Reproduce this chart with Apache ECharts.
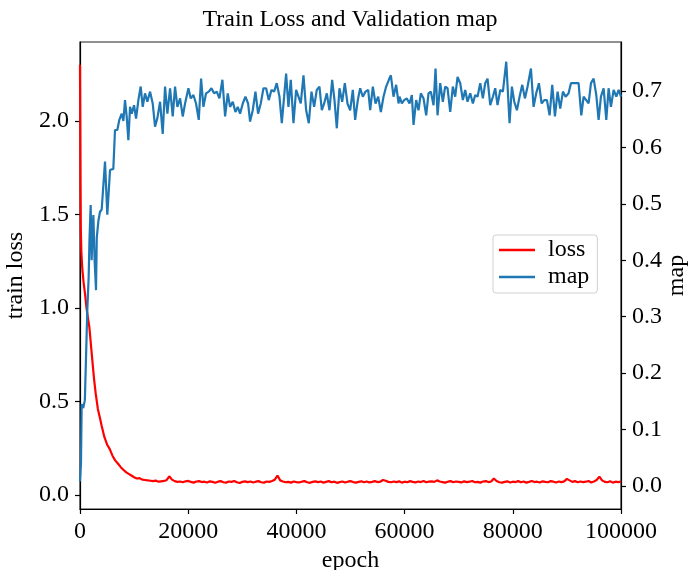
<!DOCTYPE html>
<html><head><meta charset="utf-8">
<script src="https://cdn.jsdelivr.net/npm/echarts@6/dist/echarts.min.js"></script>
<style>html,body{margin:0;padding:0;background:#fff}#c{width:689px;height:570px}</style>
</head><body><div id="c"></div>
<script>
// ---- data ----
const lossEarlyEpochs = [0,50,100,150,250,400,650,925,1200,1450,1720,2000,2280,2600,2900,3300,3700,4000,4500,5000,5500,6000,6500,7000,7500,8000,8500,9000,9500,10000,10500];
const lossEarlyValues = [2.30,2.00,1.65,1.42,1.30,1.22,1.14,1.077,1.00,0.95,0.90,0.81,0.72,0.62,0.543,0.46,0.41,0.37,0.31,0.27,0.245,0.21,0.185,0.168,0.15,0.135,0.122,0.113,0.104,0.095,0.088];
const lossFlatStart = 11000, lossFlatStep = 500;
const lossFlatValues = [
 .090,.082,.080,.078,.076,.074,.077,.071,.073,.075,
 .079,.100,.082,.074,.070,.072,.068,.073,.075,.070,
 .066,.072,.074,.069,.071,.067,.073,.070,.065,.071,
 .074,.068,.066,.072,.070,.075,.068,.064,.070,.073,
 .069,.072,.067,.071,.074,.068,.066,.072,.070,.075,
 .082,.104,.078,.072,.068,.070,.066,.072,.069,.067,
 .071,.074,.068,.065,.070,.073,.069,.072,.066,.070,
 .074,.068,.071,.065,.069,.072,.067,.071,.074,.069,
 .066,.070,.073,.068,.072,.067,.070,.074,.069,.071,
 .080,.076,.070,.068,.072,.069,.073,.066,.071,.068,
 .074,.070,.067,.072,.069,.075,.068,.071,.073,.070,
 .078,.072,.069,.066,.071,.074,.068,.072,.070,.067,
 .073,.069,.071,.075,.068,.070,.066,.072,.074,.069,
 .072,.088,.075,.068,.066,.070,.073,.067,.071,.069,
 .074,.068,.072,.066,.070,.075,.069,.071,.067,.073,
 .070,.068,.074,.071,.067,.072,.069,.073,.086,.078,
 .070,.074,.068,.072,.069,.071,.075,.067,.072,.080,
 .098,.078,.070,.068,.073,.066,.071,.069,.072];
const mapEpochs = [0,180,310,600,900,1100,1350,1600,1750,1970,2150,2280,2470,2700,2960,3100,3400,3700,4010,4300,4620,5050,5550,6160,6470,6900,7270,7710,8020,8320,8630,8940,9250,9560,9990,10360,10790,11220,11590,12020,12450,
 12950,13440,13870,14300,14800,15290,15720,16150,16650,17140,17570,18000,18500,18990,19420,20040,20470,20960,21450,21950,22380,22810,23300,23800,24290,24780,25280,25770,26320,26820,27310,27740,28240,28730,29160,29590,30090,30580,31070,31440,31930,32430,32920,33410,33910,34400,34890,35390,35880,36370,36870,37300,37730,38100,38530,38960,39460,39950,40380,40810,41310,41800,42290,42790,43280,43770,44260,44700,45130,45620,46110,46610,47040,47470,47960,48460,48950,49440,49940,50430,50860,51350,51790,52280,52770,53270,53640,54130,54620,55120,55610,56100,56590,57090,57460,57950,58440,58880,
 59060,59490,59920,60410,60910,61340,61650,62140,62570,63000,63500,63990,64420,64850,65350,65720,66090,66580,67070,67500,67940,68430,68920,69350,69790,70280,70770,71200,71630,72130,72620,73050,73480,73980,74470,74900,75330,75830,76320,76750,77180,77680,78170,78790,79400,79830,80270,80760,81250,81750,82240,82730,83350,83840,84330,84830,85320,85810,86310,86800,87290,87790,88280,88770,89270,89760,90310,90750,91240,91730,92160,92660,93090,93580,94010,94450,94940,95430,95860,96290,96790,97280,97710,98140,98640,99130,99560,100000];
const mapValues = [.008,.040,.145,.138,.152,.223,.312,.370,.436,.498,.400,.442,.480,.400,.347,.440,.470,.486,.490,.488,.575,.481,.560,.562,.631,.631,.649,.660,.647,.684,.655,.613,.672,.660,.675,.651,.684,.708,.672,.696,.681,
 .699,.678,.637,.652,.681,.624,.708,.660,.705,.655,.708,.672,.687,.655,.678,.705,.687,.693,.678,.649,.722,.672,.696,.699,.705,.696,.699,.687,.720,.655,.696,.672,.681,.663,.672,.660,.678,.690,.678,.646,.666,.699,.660,.678,.705,.705,.684,.702,.699,.714,.690,.643,.690,.731,.672,.720,.643,.702,.690,.678,.728,.666,.643,.699,.672,.702,.708,.666,.678,.696,.666,.720,.684,.634,.705,.681,.714,.678,.666,.702,.649,.684,.705,.690,.699,.702,.666,.708,.678,.690,.663,.690,.708,.720,.728,.690,.711,.678,
 .690,.678,.684,.687,.678,.693,.640,.684,.666,.696,.687,.657,.696,.699,.675,.740,.657,.714,.681,.708,.705,.663,.708,.690,.725,.714,.684,.702,.681,.696,.678,.693,.690,.714,.687,.714,.722,.675,.690,.705,.675,.702,.699,.752,.643,.708,.681,.666,.690,.711,.687,.708,.740,.672,.696,.714,.678,.684,.684,.657,.711,.655,.699,.669,.699,.690,.696,.714,.714,.714,.714,.657,.690,.684,.678,.714,.722,.693,.649,.690,.705,.649,.705,.672,.702,.690,.702,.690];
const xTicks = [0,20000,40000,60000,80000,100000];
const lossTicks = [0,0.5,1.0,1.5,2.0];
const mapTicks = [0,0.1,0.2,0.3,0.4,0.5,0.6,0.7];

// ---- build series pairs ----
const lossData = lossEarlyEpochs.map((e,i)=>[e,lossEarlyValues[i]])
  .concat(lossFlatValues.map((v,i)=>[lossFlatStart+i*lossFlatStep,v]));
const mapData = mapEpochs.map((e,i)=>[e,mapValues[i]]);

const FONT = "'Liberation Serif','Times New Roman',serif";
const FS = 24;
const chart = echarts.init(document.getElementById('c'), null, {renderer:'canvas'});
const axisCommon = {
  axisLine:{show:true,onZero:false,lineStyle:{color:'#000',width:1.2}},
  axisTick:{show:true,inside:false,length:5,lineStyle:{color:'#000',width:1.2}},
  splitLine:{show:false},
  axisLabel:{fontFamily:FONT,fontSize:FS,color:'#000',margin:11},
  nameTextStyle:{fontFamily:FONT,fontSize:FS,color:'#000'}
};
chart.setOption({
  animation:false,
  backgroundColor:'#fff',
  title:{text:'Train Loss and Validation map',left:350,textAlign:'center',top:8,padding:0,
    textStyle:{fontFamily:FONT,fontSize:FS,fontWeight:'normal',color:'#000'}},
  grid:{left:80,right:68,top:42,bottom:61,outerBoundsMode:'none',containLabel:false,show:true,borderColor:'#222',borderWidth:1.2,backgroundColor:'transparent'},
  legend:{orient:'vertical',left:493,top:235,padding:[3,8,4,6],itemGap:3,
    icon:'rect',itemWidth:36,itemHeight:2.5,
    borderColor:'#d0d0d0',borderWidth:1,borderRadius:3,backgroundColor:'rgba(255,255,255,0.8)',
    textStyle:{fontFamily:FONT,fontSize:FS,color:'#000',padding:[0,0,0,8]},
    data:['loss','map']},
  xAxis:Object.assign({},axisCommon,{type:'value',min:0,max:100000,interval:20000,
    name:'epoch',nameLocation:'middle',nameGap:37,
    axisLabel:Object.assign({},axisCommon.axisLabel,{customValues:xTicks,formatter:v=>String(v)}),
    axisTick:Object.assign({},axisCommon.axisTick,{customValues:xTicks})}),
  yAxis:[
    Object.assign({},axisCommon,{type:'value',position:'left',min:-0.075,max:2.422,
      name:'train loss',nameLocation:'middle',nameRotate:90,nameGap:52,
      axisLabel:Object.assign({},axisCommon.axisLabel,{customValues:lossTicks,formatter:v=>v.toFixed(1)}),
      axisTick:Object.assign({},axisCommon.axisTick,{customValues:lossTicks})}),
    Object.assign({},axisCommon,{type:'value',position:'right',min:-0.041,max:0.787,
      name:'map',nameLocation:'middle',nameRotate:90,nameGap:44,nameMoveOverlap:false,
      axisLabel:Object.assign({},axisCommon.axisLabel,{customValues:mapTicks,formatter:v=>v.toFixed(1)}),
      axisTick:Object.assign({},axisCommon.axisTick,{customValues:mapTicks})})
  ],
  series:[
    {name:'loss',type:'line',yAxisIndex:0,data:lossData,showSymbol:false,symbol:'none',
     lineStyle:{color:'#ff0000',width:2.2},itemStyle:{color:'#ff0000'},z:2},
    {name:'map',type:'line',yAxisIndex:1,data:mapData,showSymbol:false,symbol:'none',
     lineStyle:{color:'#1f77b4',width:2.2},itemStyle:{color:'#1f77b4'},z:3}
  ]
});
</script></body></html>
